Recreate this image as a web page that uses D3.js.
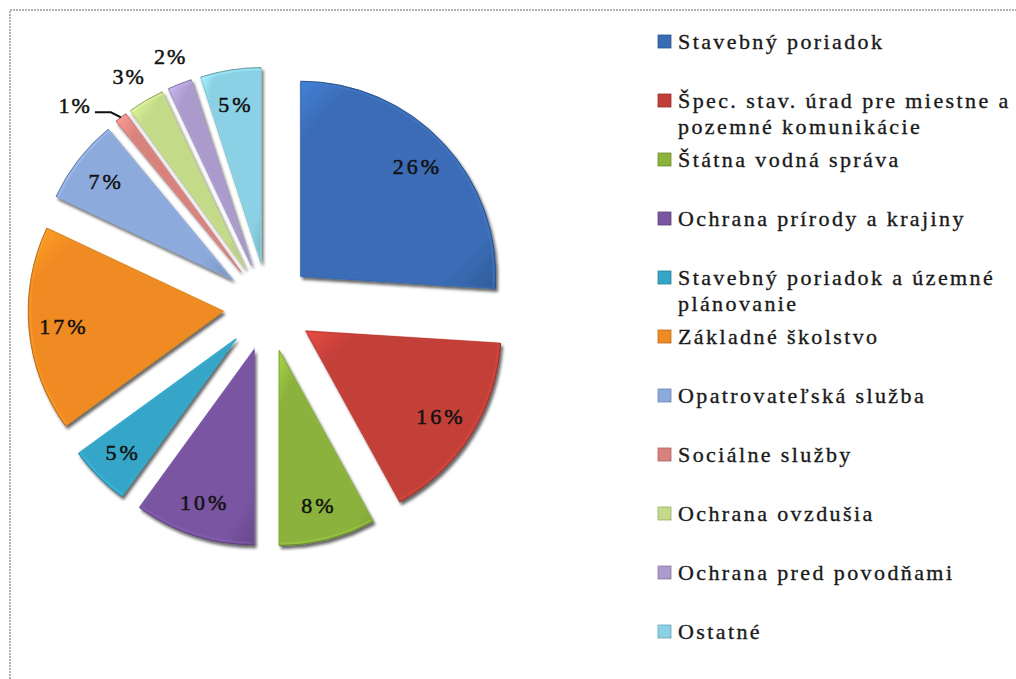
<!DOCTYPE html>
<html>
<head>
<meta charset="utf-8">
<script src="https://cdn.jsdelivr.net/npm/d3@7"></script>
<style>
  body { margin: 0; background: #fff; }
  svg { display: block; }
</style>
</head>
<body>
<svg id="chart" width="1016" height="679"></svg>
<script>
// data, clockwise from 12 o'clock
var categories = [
  "Stavebný poriadok",
  "Špec. stav. úrad pre miestne a pozemné komunikácie",
  "Štátna vodná správa",
  "Ochrana prírody a krajiny",
  "Stavebný poriadok a územné plánovanie",
  "Základné školstvo",
  "Opatrovateľská služba",
  "Sociálne služby",
  "Ochrana ovzdušia",
  "Ochrana pred povodňami",
  "Ostatné"
];
var shares = [26, 16, 8, 10, 5, 17, 7, 1, 3, 2, 5];
var colors = ["#3a6cb5", "#c23f39", "#8bb23c", "#7955a2", "#35a6c7", "#f08a22",
              "#8daadd", "#d8827d", "#c3da89", "#ab9bcd", "#8bd0e4"];

var svg = d3.select("#chart");
var W = 1016, H = 679;
var cx = 268, cy = 307, radius = 195, explode = 45;

var defs = svg.append("defs");
var shadow = defs.append("filter").attr("id", "shadow")
  .attr("x", "-20%").attr("y", "-20%").attr("width", "140%").attr("height", "140%");
shadow.append("feDropShadow").attr("dx", 2).attr("dy", 3)
  .attr("stdDeviation", 1.8).attr("flood-color", "#000").attr("flood-opacity", 0.6);

colors.forEach(function (c, i) {
  var g = defs.append("linearGradient").attr("id", "grad" + i)
    .attr("x1", 0).attr("y1", 0).attr("x2", 1).attr("y2", 1);
  g.append("stop").attr("offset", "0%").attr("stop-color", d3.color(c).brighter(0.5));
  g.append("stop").attr("offset", "15%").attr("stop-color", c);
  g.append("stop").attr("offset", "85%").attr("stop-color", c);
  g.append("stop").attr("offset", "100%").attr("stop-color", d3.color(c).darker(0.45));
});

// frame (only top and left edges are inside the picture)
svg.append("path")
  .attr("d", "M10," + H + "V10H" + W)
  .attr("fill", "none").attr("stroke", "#9a9a9a")
  .attr("stroke-width", 1.5).attr("stroke-dasharray", "2,1");

var pie = d3.pie().sort(null).value(function (d) { return d; });
var arcs = pie(shares);
var arc = d3.arc().innerRadius(0).outerRadius(radius);

function dir(a) { return [Math.sin(a), -Math.cos(a)]; }

var pieG = svg.append("g").attr("transform", "translate(" + cx + "," + cy + ")");

var slices = pieG.selectAll("g.slice").data(arcs).enter().append("g")
  .attr("class", "slice")
  .attr("transform", function (d) {
    var m = dir((d.startAngle + d.endAngle) / 2);
    return "translate(" + (m[0] * explode) + "," + (m[1] * explode) + ")";
  });

slices.append("path")
  .attr("d", arc)
  .attr("fill", function (d, i) { return "url(#grad" + i + ")"; })
  .attr("stroke", function (d, i) { return d3.color(colors[i]).darker(0.8); })
  .attr("stroke-width", 1)
  .attr("filter", "url(#shadow)");

// soft bevel highlight along the edges
slices.append("path")
  .attr("d", d3.arc().innerRadius(0).outerRadius(radius - 2))
  .attr("fill", "none")
  .attr("stroke", function (d, i) { return d3.color(colors[i]).brighter(0.5); })
  .attr("stroke-width", 2).attr("stroke-opacity", 0.4);

// percentage labels
var labelFont = "'Liberation Serif', 'Times New Roman', serif";
var placed = [];
arcs.forEach(function (d, i) {
  var mid = (d.startAngle + d.endAngle) / 2;
  var m = dir(mid);
  var ax = cx + m[0] * explode, ay = cy + m[1] * explode;
  var inside = d.data >= 5;
  var dist = inside ? radius * 0.82 : radius * 1.15;
  placed.push({ i: i, inside: inside, mid: mid, moved: false,
                x: ax + m[0] * dist, y: ay + m[1] * dist,
                tipX: ax + m[0] * radius, tipY: ay + m[1] * radius });
});

var labelG = svg.append("g");
placed.forEach(function (p) {
  p.node = labelG.append("text")
    .attr("x", p.x).attr("y", p.y)
    .attr("text-anchor", "middle").attr("dy", "0.35em")
    .attr("font-family", labelFont).attr("font-size", 22)
    .attr("letter-spacing", p.inside ? 3 : 2).attr("fill", "#111")
    .attr("stroke", "#111").attr("stroke-width", 0.5)
    .text(shares[p.i] + "%");
});

var PAD = 8, MAXSHIFT = 6;
function overlaps(a, b) {
  var r = a.node.node().getBBox(), s = b.node.node().getBBox();
  return r.x < s.x + s.width + PAD && s.x < r.x + r.width + PAD &&
         r.y < s.y + s.height && s.y < r.y + r.height;
}
// shift a label along the tangent of its slice (sign -1 = counter-clockwise)
function nudge(p, sign, s) {
  p.node.attr("x", p.x + sign * Math.cos(p.mid) * s)
        .attr("y", p.y + sign * Math.sin(p.mid) * s);
}

// resolve collisions of outside labels, top-most pair first
var outside = placed.filter(function (p) { return !p.inside; });
for (var k = outside.length - 2; k >= 0; k--) {
  var a = outside[k], b = outside[k + 1];
  if (!overlaps(a, b)) continue;
  var both = !b.moved, s = 0;
  while (overlaps(a, b) && s < MAXSHIFT) {
    s += 1;
    nudge(a, -1, s);
    if (both) nudge(b, 1, s);
  }
  if (both) b.moved = true;
  a.moved = true;
  if (!overlaps(a, b)) continue;
  // still stuck: pull it aside with a leader line
  var kx = a.tipX - 10, ky = a.tipY - 5, ex = a.tipX - 26;
  labelG.append("path")
    .attr("d", "M" + a.tipX + "," + a.tipY + "L" + kx + "," + ky + "H" + ex)
    .attr("fill", "none").attr("stroke", "#111").attr("stroke-width", 2);
  a.node.attr("x", ex - 3).attr("y", ky - 7).attr("text-anchor", "end");
}

// legend
var legX = 658, legTop = 42, legStep = 59, lineH = 26, maxW = 345;
var legG = svg.append("g");
categories.forEach(function (name, i) {
  var y = legTop + i * legStep;
  legG.append("rect")
    .attr("x", legX).attr("y", y - 7).attr("width", 13).attr("height", 13)
    .attr("fill", "url(#grad" + i + ")")
    .attr("stroke", d3.color(colors[i]).darker(0.7)).attr("stroke-width", 0.8);

  var t = legG.append("text")
    .attr("x", legX + 20).attr("y", y + 7)
    .attr("font-family", labelFont).attr("font-size", 22)
    .attr("letter-spacing", 2.4).attr("fill", "#1a1a1a")
    .attr("stroke", "#1a1a1a").attr("stroke-width", 0.35);
  var words = name.split(" "), line = [];
  var span = t.append("tspan").attr("x", legX + 20).attr("dy", 0);
  words.forEach(function (w) {
    line.push(w);
    span.text(line.join(" "));
    if (span.node().getComputedTextLength() > maxW && line.length > 1) {
      line.pop();
      span.text(line.join(" "));
      line = [w];
      span = t.append("tspan").attr("x", legX + 20).attr("dy", lineH).text(w);
    }
  });
});
</script>
</body>
</html>
